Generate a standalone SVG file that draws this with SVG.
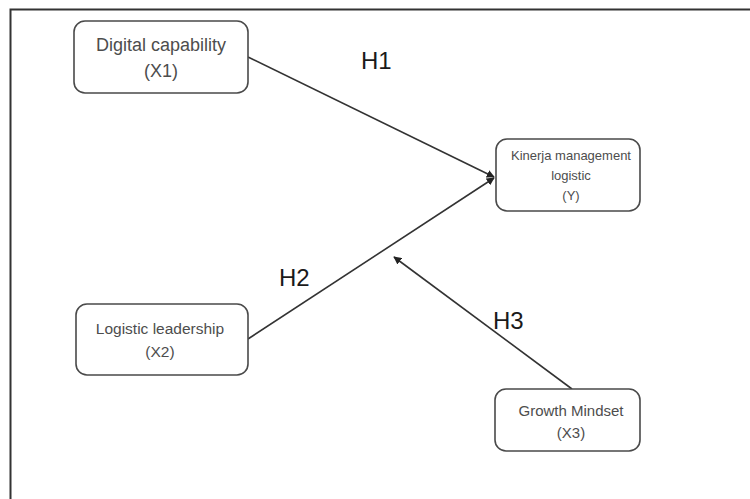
<svg xmlns="http://www.w3.org/2000/svg" width="750" height="499" viewBox="0 0 750 499">
  <defs>
    <style>
      .box { fill: #ffffff; stroke: #4a4a4a; stroke-width: 1.6; }
      .lbl { font-family: "Liberation Sans", Arial, sans-serif; fill: #4d4d4d; text-anchor: middle; }
      .hyp { font-family: "Liberation Sans", Arial, sans-serif; fill: #1a1a1a; font-size: 24px; }
      .conn { stroke: #333333; stroke-width: 1.6; fill: none; marker-end: url(#arrow); }
    </style>
    <marker id="arrow" viewBox="0 0 10 10" refX="9" refY="5" markerWidth="5" markerHeight="5" orient="auto" markerUnits="strokeWidth">
      <path d="M0,0 L10,5 L0,10 z" fill="#222222"/>
    </marker>
  </defs>
  <rect width="750" height="499" fill="#ffffff"/>
  <path d="M10.5,510 V9.5 H760" fill="none" stroke="#333333" stroke-width="2"/>

  <g id="connectors">
    <line class="conn" x1="248" y1="57" x2="494" y2="177"/>
    <line class="conn" x1="248" y1="339" x2="494" y2="178"/>
    <line class="conn" x1="572" y1="389" x2="394" y2="257"/>
    <text class="hyp" x="361" y="69">H1</text>
    <text class="hyp" x="279" y="286">H2</text>
    <text class="hyp" x="493" y="329">H3</text>
  </g>

  <g id="x1">
    <rect class="box" x="74" y="21" width="174" height="72" rx="11"/>
    <text class="lbl" x="161" y="51" font-size="18">Digital capability</text>
    <text class="lbl" x="161" y="77" font-size="18">(X1)</text>
  </g>

  <g id="y">
    <rect class="box" x="496" y="139" width="144" height="72" rx="11"/>
    <text class="lbl" x="571" y="160" font-size="13">Kinerja management</text>
    <text class="lbl" x="571" y="180" font-size="13">logistic</text>
    <text class="lbl" x="571" y="200" font-size="13">(Y)</text>
  </g>

  <g id="x2">
    <rect class="box" x="76" y="304" width="172" height="71" rx="11"/>
    <text class="lbl" x="160" y="334" font-size="15.5">Logistic leadership</text>
    <text class="lbl" x="160" y="357" font-size="15.5">(X2)</text>
  </g>

  <g id="x3">
    <rect class="box" x="495" y="389" width="145" height="62" rx="11"/>
    <text class="lbl" x="571" y="416" font-size="15">Growth Mindset</text>
    <text class="lbl" x="571" y="438" font-size="15">(X3)</text>
  </g>
</svg>
